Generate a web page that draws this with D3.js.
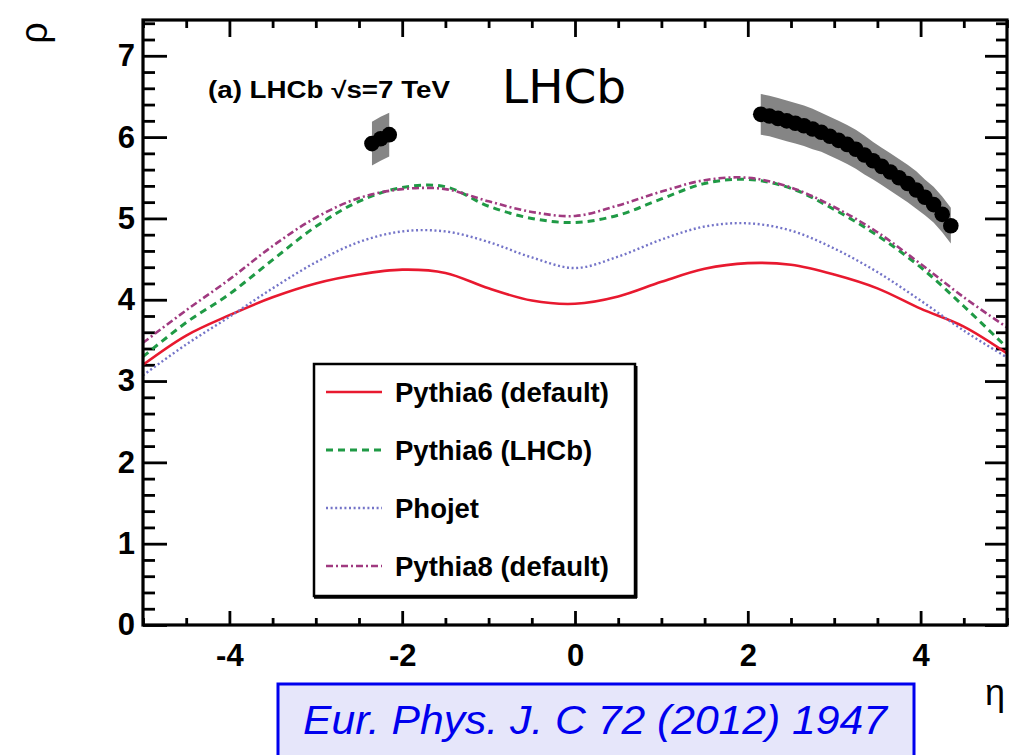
<!DOCTYPE html>
<html>
<head>
<meta charset="utf-8">
<script src="https://cdn.jsdelivr.net/npm/d3@7"></script>
<style>
  body { margin: 0; background: #fff; }
  svg { display: block; }
  .tick text { font-family: "Liberation Sans", Arial, sans-serif; font-weight: bold; font-size: 31px; fill: #000; }
</style>
</head>
<body>
<svg width="1033" height="755"></svg>
<script>
// eta grid for the model curves
var etaGrid = [-5, -4.5, -4, -3.5, -3, -2.5, -2, -1.5, -1, -0.5, 0, 0.5, 1, 1.5, 2, 2.5, 3, 3.5, 4, 4.5, 5];

var pythia6Default = [3.20, 3.56, 3.81, 4.03, 4.20, 4.31, 4.37, 4.33, 4.14, 3.99, 3.95, 4.04, 4.22, 4.38, 4.45, 4.43, 4.31, 4.14, 3.89, 3.67, 3.34];
var pythia6LHCb    = [3.30, 3.72, 4.07, 4.49, 4.90, 5.21, 5.38, 5.39, 5.15, 5.00, 4.95, 5.04, 5.24, 5.43, 5.48, 5.37, 5.11, 4.79, 4.40, 3.92, 3.41];
var phojet         = [3.07, 3.45, 3.79, 4.14, 4.46, 4.71, 4.84, 4.84, 4.71, 4.52, 4.39, 4.53, 4.74, 4.90, 4.94, 4.85, 4.63, 4.34, 3.99, 3.62, 3.29];
var pythia8Default = [3.47, 3.87, 4.25, 4.66, 5.01, 5.25, 5.36, 5.36, 5.21, 5.08, 5.03, 5.16, 5.33, 5.47, 5.50, 5.38, 5.14, 4.83, 4.44, 4.03, 3.66];

// LHCb data, backward and forward
var dataBackEta = [-2.35, -2.25, -2.15];
var dataBackRho = [5.92, 5.98, 6.03];
var dataBackErr = [0.27, 0.27, 0.27];

var dataFwdEta = [2.15, 2.25, 2.35, 2.45, 2.55, 2.65, 2.75, 2.85, 2.95, 3.05, 3.15, 3.25, 3.35, 3.45, 3.55, 3.65, 3.75, 3.85, 3.95, 4.05, 4.15, 4.25, 4.35];
var dataFwdRho = [6.28, 6.26, 6.23, 6.20, 6.17, 6.14, 6.10, 6.06, 6.01, 5.96, 5.91, 5.85, 5.78, 5.71, 5.64, 5.57, 5.50, 5.43, 5.35, 5.26, 5.17, 5.05, 4.91];
var dataFwdErr = [0.25, 0.25, 0.25, 0.25, 0.25, 0.25, 0.25, 0.24, 0.24, 0.24, 0.24, 0.24, 0.24, 0.23, 0.23, 0.23, 0.23, 0.23, 0.23, 0.22, 0.22, 0.22, 0.22];

var xTicks = [-4, -2, 0, 2, 4];
var yTicks = [0, 1, 2, 3, 4, 5, 6, 7];

var seriesNames = ["Pythia6 (default)", "Pythia6 (LHCb)", "Phojet", "Pythia8 (default)"];
var seriesValues = [pythia6Default, pythia6LHCb, phojet, pythia8Default];
var seriesColors = ["#e8192f", "#1f9a45", "#7474c8", "#a03a80"];
var seriesDash = ["none", "7,5", "2,2.6", "7,3,2,3"];
var seriesWidth = [2.6, 3, 2.4, 2.6];

var svg = d3.select("svg");
var x = d3.scaleLinear().domain([-5, 5]).range([143, 1007]);
var y = d3.scaleLinear().domain([0, 7.44]).range([625, 20]);

var xMinor = d3.range(-5, 5.01, 0.5).filter(function (v) { return xTicks.indexOf(v) < 0; });
var yMinor = d3.range(0, 7.45, 0.2).map(function (v) { return +v.toFixed(1); })
  .filter(function (v) { return yTicks.indexOf(v) < 0; });

var plainInt = function (d) { return String(d); }; // keep ascii hyphen like ROOT

function drawAxis(axis, tr) {
  var g = svg.append("g").attr("transform", tr).call(axis);
  g.select(".domain").remove();
  g.selectAll(".tick line").attr("stroke", "#000").attr("stroke-width", 2.8);
  return g;
}

// bottom
drawAxis(d3.axisBottom(x).tickValues(xTicks).tickSize(-14).tickPadding(19)
  .tickFormat(plainInt), "translate(0,625)");
drawAxis(d3.axisBottom(x).tickValues(xMinor).tickSize(-7).tickFormat(""), "translate(0,625)");
// top
drawAxis(d3.axisTop(x).tickValues(xTicks).tickSize(-17).tickFormat(""), "translate(0,20)");
drawAxis(d3.axisTop(x).tickValues(xMinor).tickSize(-8).tickFormat(""), "translate(0,20)");
// left
drawAxis(d3.axisLeft(y).tickValues(yTicks).tickSize(-24).tickPadding(8)
  .tickFormat(plainInt), "translate(143,0)");
drawAxis(d3.axisLeft(y).tickValues(yMinor).tickSize(-12).tickFormat(""), "translate(143,0)");
// right
drawAxis(d3.axisRight(y).tickValues(yTicks).tickSize(-22).tickFormat(""), "translate(1007,0)");
drawAxis(d3.axisRight(y).tickValues(yMinor).tickSize(-11).tickFormat(""), "translate(1007,0)");

// model curves
var line = d3.line()
  .x(function (d) { return x(d[0]); })
  .y(function (d) { return y(d[1]); })
  .curve(d3.curveCatmullRom);

seriesValues.forEach(function (vals, i) {
  svg.append("path")
    .datum(etaGrid.map(function (e, j) { return [e, vals[j]]; }))
    .attr("d", line)
    .attr("fill", "none")
    .attr("stroke", seriesColors[i])
    .attr("stroke-width", seriesWidth[i])
    .attr("stroke-dasharray", seriesDash[i]);
});

// data with systematic band
var band = d3.area()
  .x(function (d) { return x(d[0]); })
  .y0(function (d) { return y(d[1] - d[2]); })
  .y1(function (d) { return y(d[1] + d[2]); });

function drawData(etas, rhos, errs) {
  var pts = etas.map(function (e, j) { return [e, rhos[j], errs[j]]; });
  svg.append("path").datum(pts).attr("d", band).attr("fill", "#858585");
  svg.selectAll(null).data(pts).enter().append("circle")
    .attr("cx", function (d) { return x(d[0]); })
    .attr("cy", function (d) { return y(d[1]); })
    .attr("r", 7.8)
    .attr("fill", "#000");
}
drawData(dataBackEta, dataBackRho, dataBackErr);
drawData(dataFwdEta, dataFwdRho, dataFwdErr);

// frame
svg.append("rect").attr("x", 143).attr("y", 20).attr("width", 864).attr("height", 605)
  .attr("fill", "none").attr("stroke", "#000").attr("stroke-width", 3.2);

// legend
var lg = svg.append("g");
lg.append("rect").attr("x", 314).attr("y", 364).attr("width", 321).attr("height", 232)
  .attr("fill", "#fff").attr("stroke", "#000").attr("stroke-width", 2.5);
lg.append("line").attr("x1", 314).attr("x2", 637).attr("y1", 597).attr("y2", 597)
  .attr("stroke", "#000").attr("stroke-width", 3.5);
lg.append("line").attr("x1", 636).attr("x2", 636).attr("y1", 366).attr("y2", 598)
  .attr("stroke", "#000").attr("stroke-width", 3);
seriesNames.forEach(function (name, i) {
  var cy = 392 + i * 58;
  lg.append("line").attr("x1", 326).attr("x2", 382).attr("y1", cy).attr("y2", cy)
    .attr("stroke", seriesColors[i]).attr("stroke-width", seriesWidth[i])
    .attr("stroke-dasharray", seriesDash[i]);
  lg.append("text").attr("x", 395).attr("y", cy + 10)
    .attr("font-family", "Liberation Sans, Arial, sans-serif").attr("font-weight", "bold")
    .attr("font-size", 27.5)
    .text(name);
});

// texts
svg.append("text").attr("x", 208).attr("y", 98)
  .attr("font-family", "Liberation Sans, Arial, sans-serif").attr("font-weight", "bold")
  .attr("font-size", 23).attr("textLength", 242).attr("lengthAdjust", "spacingAndGlyphs")
  .text("(a) LHCb \u221As=7 TeV");

svg.append("text").attr("x", 502).attr("y", 103)
  .attr("font-family", "DejaVu Sans, sans-serif").attr("font-size", 47)
  .text("LHCb");

svg.append("text").attr("transform", "translate(47,22) rotate(-90)")
  .attr("text-anchor", "end")
  .attr("font-family", "Liberation Sans, Arial, sans-serif").attr("font-size", 38)
  .text("\u03C1");

svg.append("text").attr("x", 1005).attr("y", 705).attr("text-anchor", "end")
  .attr("font-family", "Liberation Sans, Arial, sans-serif").attr("font-size", 36)
  .text("\u03B7");

// citation box
svg.append("rect").attr("x", 278).attr("y", 684).attr("width", 636).attr("height", 80)
  .attr("fill", "#e6e6fa").attr("stroke", "#0000ee").attr("stroke-width", 3);
svg.append("text").attr("x", 303).attr("y", 734)
  .attr("font-family", "Liberation Sans, Arial, sans-serif").attr("font-style", "italic")
  .attr("font-size", 41).attr("fill", "#0000ee")
  .attr("textLength", 584).attr("lengthAdjust", "spacingAndGlyphs")
  .text("Eur. Phys. J. C 72 (2012) 1947");
</script>
</body>
</html>
